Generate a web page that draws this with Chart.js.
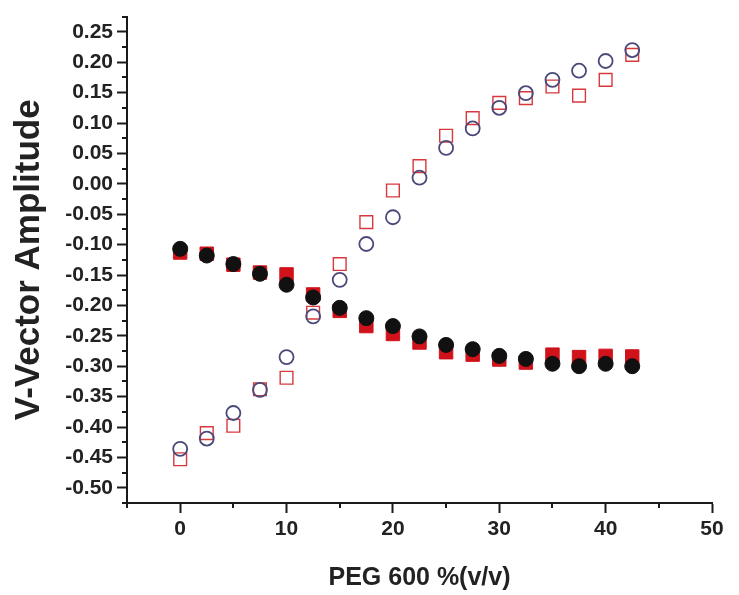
<!DOCTYPE html>
<html>
<head>
<meta charset="utf-8">
<script src="https://cdn.jsdelivr.net/npm/chart.js@4/dist/chart.umd.min.js"></script>
<style>
  html, body { margin: 0; padding: 0; background: #ffffff; }
  #wrap { width: 739px; height: 595px; }
</style>
</head>
<body>
<div id="wrap"><canvas id="chart" width="739" height="595"></canvas></div>
<script>
// PEG 600 concentrations, % (v/v)
const peg = [0, 2.5, 5, 7.5, 10, 12.5, 15, 17.5, 20, 22.5, 25, 27.5, 30, 32.5, 35, 37.5, 40, 42.5];

// V-vector amplitude, filled markers
const filledCircle = [-0.107, -0.118, -0.132, -0.148, -0.166, -0.187, -0.204, -0.221, -0.234, -0.251,
                      -0.265, -0.272, -0.283, -0.288, -0.296, -0.300, -0.296, -0.300];
const filledSquare = [-0.113, -0.115, -0.133, -0.146, -0.149, -0.182, -0.209, -0.234, -0.247, -0.261,
                      -0.277, -0.281, -0.289, -0.294, -0.281, -0.285, -0.283, -0.284];

// V-vector amplitude, open markers
const openCircle = [-0.436, -0.419, -0.377, -0.339, -0.285, -0.218, -0.158, -0.099, -0.055, 0.010,
                    0.059, 0.091, 0.125, 0.149, 0.171, 0.186, 0.202, 0.220];
const openSquare = [-0.453, -0.410, -0.398, -0.338, -0.319, -0.212, -0.132, -0.063, -0.011, 0.029,
                    0.079, 0.108, 0.133, 0.141, 0.160, 0.145, 0.171, 0.212];

// Axis ticks
const xTicks = [0, 10, 20, 30, 40, 50];
const yTicks = [-0.50, -0.45, -0.40, -0.35, -0.30, -0.25, -0.20, -0.15, -0.10, -0.05,
                0.00, 0.05, 0.10, 0.15, 0.20, 0.25];
const xRange = [-5, 50];
const yRange = [-0.525, 0.275];

const pts = ys => ys.map((y, i) => ({ x: peg[i], y }));

// Minor ticks sit halfway between major ticks (and at the axis ends)
function minorValues(major, range) {
  const step = major[1] - major[0];
  const out = [];
  for (let v = major[0] - step / 2; v <= range[1] + 1e-9; v += step) {
    if (v >= range[0] - 1e-9) out.push(v);
  }
  return out;
}

const minorTicks = {
  id: 'minorTicks',
  afterDraw(chart) {
    const { ctx } = chart;
    const xs = chart.scales.x, ys = chart.scales.y;
    ctx.save();
    ctx.strokeStyle = '#1a1a1a';
    ctx.lineWidth = 2;
    ctx.beginPath();
    minorValues(xTicks, xRange).forEach(v => {
      const px = Math.round(xs.getPixelForValue(v));
      ctx.moveTo(px, xs.top);
      ctx.lineTo(px, xs.top + 5);
    });
    minorValues(yTicks, yRange).forEach(v => {
      const py = Math.round(ys.getPixelForValue(v));
      ctx.moveTo(ys.right, py);
      ctx.lineTo(ys.right - 5, py);
    });
    ctx.stroke();
    ctx.restore();
  }
};

const family = '"Liberation Sans", Arial, sans-serif';
const tickFont = { family, size: 21, weight: 'bold' };

new Chart(document.getElementById('chart'), {
  type: 'scatter',
  data: {
    datasets: [
      { label: 'filled circle', data: pts(filledCircle), pointStyle: 'circle', pointRadius: 7.5,
        backgroundColor: '#111111', borderColor: '#111111', borderWidth: 1 },
      { label: 'filled square', data: pts(filledSquare), pointStyle: 'rect', pointRadius: 9.5,
        backgroundColor: '#d0121a', borderColor: '#d0121a', borderWidth: 1 },
      { label: 'open circle', data: pts(openCircle), pointStyle: 'circle', pointRadius: 7,
        backgroundColor: 'rgba(0,0,0,0)', borderColor: '#4a4a7a', borderWidth: 1.8 },
      { label: 'open square', data: pts(openSquare), pointStyle: 'rect', pointRadius: 9,
        backgroundColor: 'rgba(0,0,0,0)', borderColor: '#d8383c', borderWidth: 1.4 }
    ]
  },
  options: {
    responsive: false,
    animation: false,
    layout: { padding: { top: 15, right: 27, bottom: 0, left: 0 } },
    plugins: { legend: { display: false }, tooltip: { enabled: false } },
    scales: {
      x: {
        type: 'linear',
        min: xRange[0], max: xRange[1],
        afterBuildTicks: s => { s.ticks = xTicks.map(v => ({ value: v })); },
        afterFit: s => { s.height = 92; },
        border: { display: true, color: '#1a1a1a', width: 2 },
        grid: { drawOnChartArea: false, drawTicks: true, tickLength: 10, tickWidth: 2, tickColor: '#1a1a1a' },
        ticks: { font: tickFont, color: '#222222', padding: 4, maxRotation: 0,
                 callback: v => String(v) },
        title: { display: true, text: 'PEG 600 %(v/v)', color: '#222222',
                 font: { family, size: 25, weight: 'bold' },
                 padding: { top: 0, bottom: 2 } }
      },
      y: {
        type: 'linear',
        min: yRange[0], max: yRange[1],
        afterBuildTicks: s => { s.ticks = yTicks.map(v => ({ value: v })); },
        afterFit: s => { s.width = 127; },
        border: { display: true, color: '#1a1a1a', width: 2 },
        grid: { drawOnChartArea: false, drawTicks: true, tickLength: 10, tickWidth: 2, tickColor: '#1a1a1a' },
        ticks: { font: tickFont, color: '#222222', padding: 4,
                 callback: v => Number(v).toFixed(2) },
        title: { display: true, text: 'V-Vector Amplitude', color: '#222222',
                 font: { family, size: 35, weight: 'bold' },
                 padding: { top: 8, bottom: 0 } }
      }
    }
  },
  plugins: [minorTicks]
});
</script>
</body>
</html>
